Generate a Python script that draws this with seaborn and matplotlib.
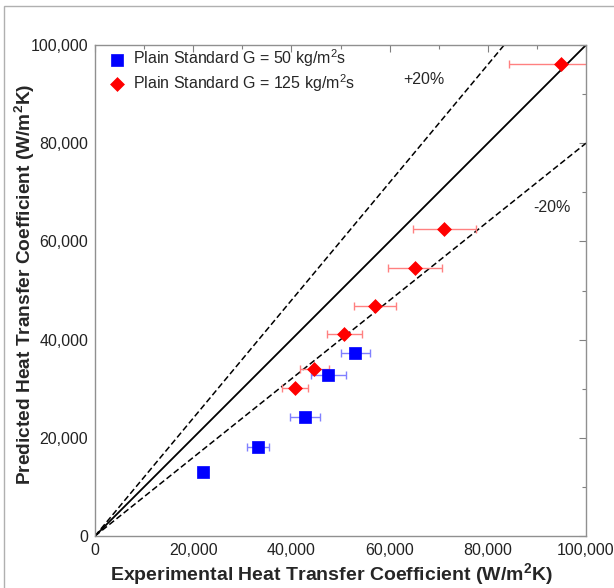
import matplotlib
matplotlib.use("Agg")
import matplotlib.pyplot as plt
import seaborn as sns
import numpy as np
import pandas as pd
from matplotlib.patches import Rectangle
from matplotlib.ticker import FuncFormatter, MultipleLocator

# Data (W/m^2K)
g50_exp = [22000, 33200, 42800, 47500, 53000]
g50_pred = [13000, 18100, 24200, 32800, 37300]
g50_err = [1000, 2200, 3000, 3600, 3000]

g125_exp = [40700, 44700, 50800, 57000, 65200, 71100, 95000]
g125_pred = [30200, 34000, 41100, 46900, 54600, 62600, 96100]
g125_err = [2600, 2900, 3600, 4300, 5500, 6400, 10700]

label50 = "Plain Standard G = 50 kg/m$^2$s"
label125 = "Plain Standard G = 125 kg/m$^2$s"

sns.set_style("white")
plt.rcParams['font.family'] = ['Liberation Sans', 'DejaVu Sans']
plt.rcParams['mathtext.fontset'] = 'custom'
plt.rcParams['mathtext.rm'] = 'Liberation Sans'
plt.rcParams['mathtext.bf'] = 'Liberation Sans:bold'

fig = plt.figure(figsize=(6.14, 5.88), dpi=100)
ax = fig.add_axes([95/614, 1-536/588, 491/614, 491/588])

# reference lines
xs = np.array([0, 100000])
ax.plot(xs, xs, color='black', lw=1.3, zorder=1)
ax.plot(xs, 1.2*xs, color='black', lw=1.1, ls=(0, (4, 2)), zorder=1)
ax.plot(xs, 0.8*xs, color='black', lw=1.1, ls=(0, (4, 2)), zorder=1)

# error bars
ax.errorbar(g50_exp, g50_pred, xerr=g50_err, fmt='none', ecolor='#8080ff',
            elinewidth=1.0, capsize=3, zorder=2, clip_on=True)
ax.errorbar(g125_exp, g125_pred, xerr=g125_err, fmt='none', ecolor='#ff8080',
            elinewidth=1.0, capsize=3, zorder=2, clip_on=True)

df50 = pd.DataFrame({'x': g50_exp, 'y': g50_pred})
df125 = pd.DataFrame({'x': g125_exp, 'y': g125_pred})
sns.scatterplot(data=df50, x='x', y='y', marker='s', color='#0000ff', s=75,
                edgecolor='#0000ff', linewidth=0.5, label=label50, ax=ax, zorder=3)
sns.scatterplot(data=df125, x='x', y='y', marker='D', color='#ff0000', s=50,
                edgecolor='#ff0000', linewidth=0.5, label=label125, ax=ax, zorder=3)

ax.set_xlim(0, 100000)
ax.set_ylim(0, 100000)
ax.xaxis.set_major_locator(MultipleLocator(20000))
ax.yaxis.set_major_locator(MultipleLocator(20000))
ax.xaxis.set_minor_locator(MultipleLocator(10000))
ax.yaxis.set_minor_locator(MultipleLocator(10000))
fmt = FuncFormatter(lambda v, p: f"{int(v):,}")
ax.xaxis.set_major_formatter(fmt)
ax.yaxis.set_major_formatter(fmt)
ax.tick_params(which='both', direction='in', top=True, right=True,
               color='#808080', labelsize=11.5, labelcolor='#222222')
ax.tick_params(which='major', length=5, width=0.8, pad=5)
ax.tick_params(which='minor', length=3, width=0.8)
for s in ax.spines.values():
    s.set_color('#909090')
    s.set_linewidth(1.0)

ax.set_xlabel("Experimental Heat Transfer Coefficient (W/m$^\\mathbf{2}$K)",
              fontsize=14.0, fontweight='bold')
ax.set_ylabel("Predicted Heat Transfer Coefficient (W/m$^\\mathbf{2}$K)",
              fontsize=13.8, fontweight='bold')
ax.xaxis.set_label_coords((331-95)/491, (536-561)/491)
ax.yaxis.set_label_coords((37-95)/491, (536-284)/491)

ax.text(67000, 93000, "+20%", fontsize=11.5, ha='center', va='center')
ax.text(93000, 67000, "-20%", fontsize=11.5, ha='center', va='center')

leg = ax.legend(loc='upper left', bbox_to_anchor=(14/491, 1 - 2/491),
                frameon=False, fontsize=11.5,
                handletextpad=0.5, borderaxespad=0.0, borderpad=0.0,
                labelspacing=0.2, handlelength=1.0)

fig.add_artist(Rectangle((4/614, -0.1), 1.2, (1-6/588)+0.1, transform=fig.transFigure,
                         fill=False, edgecolor='#b0b0b0', lw=1.0))

fig.savefig("out.png", dpi=100)
